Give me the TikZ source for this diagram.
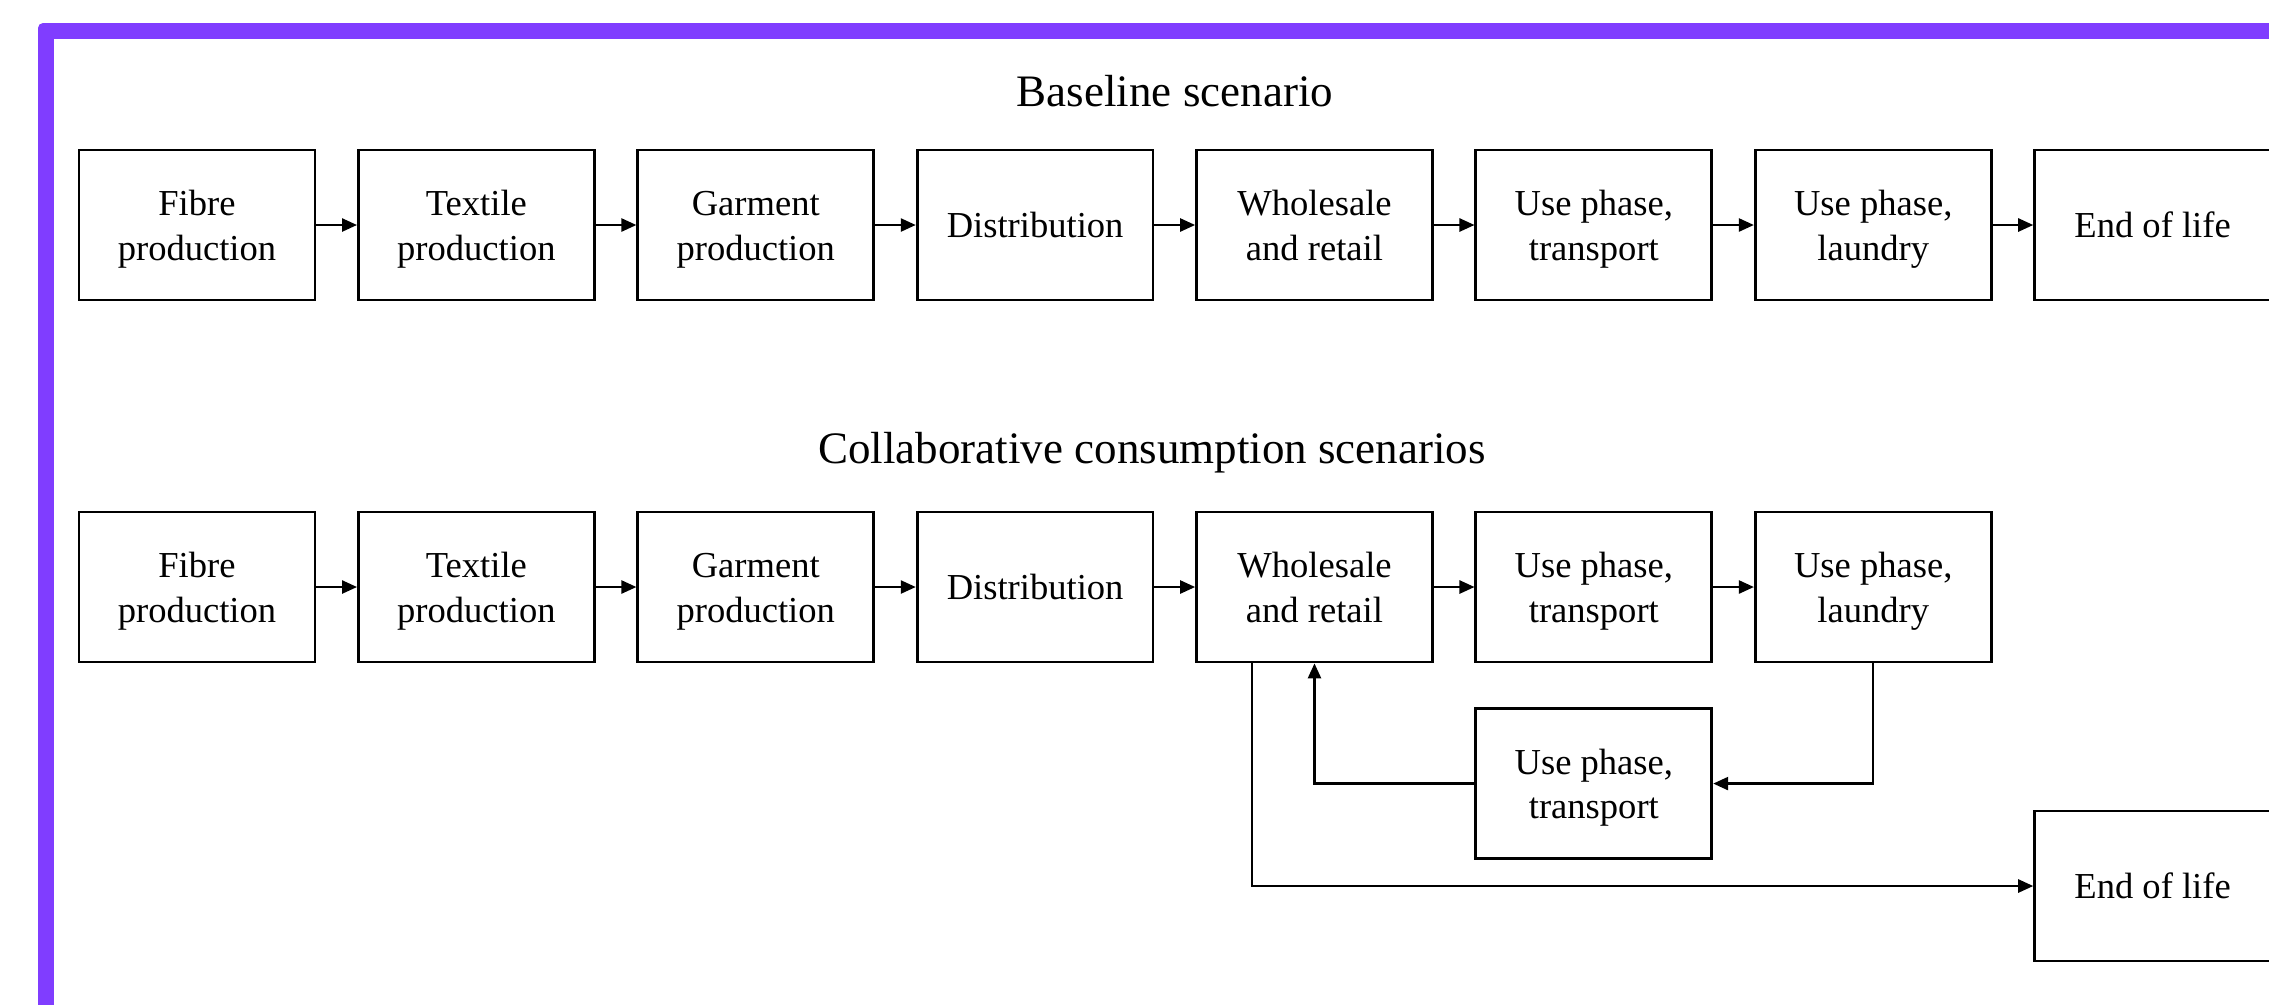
\documentclass[tikz,border=0pt]{standalone}
\usepackage{fontspec}
\setmainfont{Liberation Serif}
\usetikzlibrary{positioning,arrows.meta}
\definecolor{framepurple}{RGB}{128,61,255}

\begin{document}
\begin{tikzpicture}[x=0.32pt, y=-0.32pt, node distance={13pt},
    stagebox/.style = {draw, line width=0.9pt, rectangle, minimum width=75.5pt, minimum height=48pt, inner sep=0pt, align=center, font=\fontsize{11.7}{14.1}\selectfont},
    stage/.style = {stagebox, execute at begin node={\rule{0pt}{25pt}}, execute at end node={\rule[-2.6pt]{0pt}{2.6pt}}},
    stageone/.style = {stagebox, execute at begin node={\rule{0pt}{10pt}}, execute at end node={\rule[-2.2pt]{0pt}{2.2pt}}},
    heading/.style = {font=\fontsize{14.4}{17}\selectfont},
    flow/.style = {-{Triangle[length=4.8pt,width=4.2pt]}, line width=0.7pt}]
      \useasboundingbox (0,0) rectangle (2269,1004);
      % frame
      \fill[framepurple, rounded corners=1.6pt] (38,23) rectangle (2320,1060);
      \fill[white] (54,39) rectangle (2320,1060);

      % baseline scenario
      \node[heading] (base) at (1175,91) {Baseline scenario};
      \node[stage] (fibre1) at (197,225) {Fibre\\production};
      \node[stage] (textile1) [right=of fibre1] {Textile\\production};
      \node[stage] (garment1) [right=of textile1] {Garment\\production};
      \node[stageone] (distr1) [right=of garment1] {Distribution};
      \node[stage] (whole1) [right=of distr1] {Wholesale\\and retail};
      \node[stage] (usetr1) [right=of whole1] {Use phase,\\transport};
      \node[stage] (laund1) [right=of usetr1] {Use phase,\\laundry};
      \node[stageone] (end1) [right=of laund1] {End of life};
      \draw[flow] (fibre1) -- (textile1);
      \draw[flow] (textile1) -- (garment1);
      \draw[flow] (garment1) -- (distr1);
      \draw[flow] (distr1) -- (whole1);
      \draw[flow] (whole1) -- (usetr1);
      \draw[flow] (usetr1) -- (laund1);
      \draw[flow] (laund1) -- (end1);

      % collaborative consumption
      \node[heading] (collab) at (1152,453) {Collaborative consumption scenarios};
      \node[stage] (fibre2) at (197,587) {Fibre\\production};
      \node[stage] (textile2) [right=of fibre2] {Textile\\production};
      \node[stage] (garment2) [right=of textile2] {Garment\\production};
      \node[stageone] (distr2) [right=of garment2] {Distribution};
      \node[stage] (whole2) [right=of distr2] {Wholesale\\and retail};
      \node[stage] (usetr2) [right=of whole2] {Use phase,\\transport};
      \node[stage] (laund2) [right=of usetr2] {Use phase,\\laundry};
      \node[stage] (usetr3) [below=14pt of usetr2] {Use phase,\\transport};
      \coordinate (eolrow) at (0,886);
      \node[stageone] (end2) at (end1 |- eolrow) {End of life};
      \draw[flow] (fibre2) -- (textile2);
      \draw[flow] (textile2) -- (garment2);
      \draw[flow] (garment2) -- (distr2);
      \draw[flow] (distr2) -- (whole2);
      \draw[flow] (whole2) -- (usetr2);
      \draw[flow] (usetr2) -- (laund2);
      \draw[flow] (laund2.south) |- (usetr3.east);
      \draw[flow] (usetr3.west) -| (whole2.south);
      \draw[flow] ([xshift=-20pt]whole2.south) |- (end2.west);
\end{tikzpicture}
\end{document}
